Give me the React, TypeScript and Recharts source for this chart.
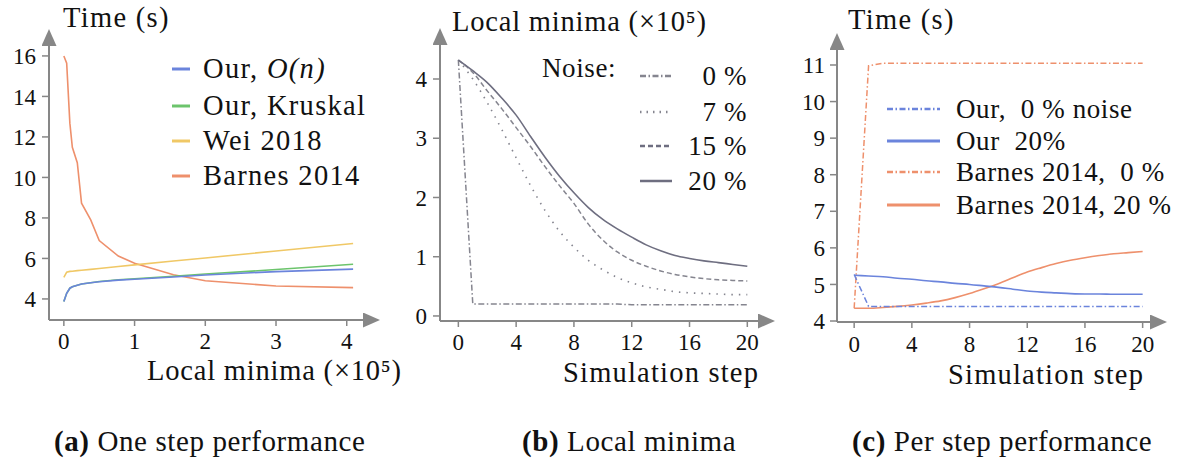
import React from 'react';
import { LineChart, Line, XAxis, YAxis } from 'recharts';

// (a) one step performance
const minimaA = [0, 0.04, 0.085, 0.12, 0.19, 0.25, 0.38, 0.5, 0.77, 1.0, 1.55, 2.0, 3.0, 4.09];
const ourOn = [3.87, 4.28, 4.53, 4.6, 4.68, 4.74, 4.8, 4.85, 4.93, 4.97, 5.08, 5.18, 5.35, 5.47];
const ourKruskal = [3.87, 4.28, 4.53, 4.6, 4.68, 4.74, 4.8, 4.86, 4.95, 5.0, 5.12, 5.23, 5.45, 5.71];
const wei2018 = [5.07, 5.32, 5.36, 5.37, 5.4, 5.42, 5.46, 5.5, 5.6, 5.68, 5.87, 6.02, 6.37, 6.74];
const barnesA = [16, 15.64, 12.68, 11.49, 10.73, 8.73, 7.9, 6.88, 6.12, 5.76, 5.19, 4.9, 4.64, 4.56];
const ticksAx = [0, 1, 2, 3, 4];
const ticksAy = [4, 6, 8, 10, 12, 14, 16];

// (b) local minima per step
const steps = [0, 1, 2, 3, 4, 5, 6, 7, 8, 9, 10, 11, 12, 13, 14, 15, 16, 17, 18, 19, 20];
const noise0 = [4.32, 0.2, 0.2, 0.2, 0.2, 0.2, 0.2, 0.2, 0.2, 0.2, 0.2, 0.2, 0.19, 0.19, 0.19, 0.19, 0.19, 0.19, 0.19, 0.19, 0.19];
const noise7 = [4.32, 4.0, 3.6, 3.15, 2.67, 2.2, 1.78, 1.43, 1.16, 0.94, 0.78, 0.65, 0.56, 0.49, 0.45, 0.41, 0.39, 0.38, 0.37, 0.36, 0.36];
const noise15 = [4.32, 4.11, 3.8, 3.5, 3.18, 2.86, 2.52, 2.2, 1.9, 1.55, 1.28, 1.08, 0.94, 0.84, 0.76, 0.7, 0.66, 0.63, 0.61, 0.6, 0.59];
const noise20 = [4.32, 4.14, 3.94, 3.68, 3.39, 3.03, 2.68, 2.36, 2.08, 1.83, 1.63, 1.47, 1.33, 1.2, 1.1, 1.02, 0.97, 0.93, 0.9, 0.87, 0.84];
const ticksStep = [0, 4, 8, 12, 16, 20];
const ticksBy = [0, 1, 2, 3, 4];

// (c) per step performance
const our0 = [5.27, 4.4, 4.4, 4.4, 4.4, 4.4, 4.4, 4.4, 4.4, 4.4, 4.4, 4.4, 4.4, 4.4, 4.4, 4.4, 4.4, 4.4, 4.4, 4.4, 4.4];
const our20 = [5.25, 5.23, 5.21, 5.17, 5.14, 5.1, 5.07, 5.03, 5.0, 4.96, 4.92, 4.87, 4.82, 4.79, 4.77, 4.75, 4.74, 4.74, 4.73, 4.73, 4.73];
const barnes0 = [4.35, 10.98, 11.05, 11.05, 11.05, 11.05, 11.05, 11.05, 11.05, 11.05, 11.05, 11.05, 11.05, 11.05, 11.05, 11.05, 11.05, 11.05, 11.05, 11.05, 11.05];
const barnes20 = [4.35, 4.35, 4.37, 4.4, 4.44, 4.49, 4.55, 4.64, 4.75, 4.88, 5.02, 5.18, 5.34, 5.46, 5.57, 5.66, 5.73, 5.79, 5.84, 5.87, 5.9];
const ticksCy = [4, 5, 6, 7, 8, 9, 10, 11];

const dataA = minimaA.map((x, i) => ({ x, ourOn: ourOn[i], ourKruskal: ourKruskal[i], wei: wei2018[i], barnes: barnesA[i] }));
const dataB = steps.map((x, i) => ({ x, n0: noise0[i], n7: noise7[i], n15: noise15[i], n20: noise20[i] }));
const dataC = steps.map((x, i) => ({ x, our0: our0[i], our20: our20[i], b0: barnes0[i], b20: barnes20[i] }));

const FONT = "'Liberation Serif', 'Times New Roman', serif";
const AXIS = '#878787';
const BLUE = '#6b84dc';
const GREEN = '#6cc46c';
const YELLOW = '#f0c866';
const ORANGE = '#ee906c';
const GRAY = '#6e6e80';
const GRAY_L = '#85858f';
const DASHDOT = '6 2.5 1.5 2.5';

const tickStyle = { fontFamily: FONT, fontSize: 23, fill: '#111' };

const Arrow = ({ id }: { id: string }) => (
  <defs>
    <marker id={id} viewBox="0 0 17 15" refX="0" refY="7.5" markerWidth="17" markerHeight="15"
      markerUnits="userSpaceOnUse" orient="auto-start-reverse">
      <path d="M0,0 L17,7.5 L0,15 Z" fill={AXIS} />
    </marker>
  </defs>
);

const axisX = (id: string) => ({ stroke: AXIS, strokeWidth: 2, markerEnd: `url(#${id})` });
const axisY = (id: string) => ({ stroke: AXIS, strokeWidth: 2, markerStart: `url(#${id})` });
const tickLine = { stroke: AXIS, strokeWidth: 1.5 };

// text placed by its baseline (line-height 0.7 keeps the box tight)
const text = (left: number, baseline: number, size: number, content: React.ReactNode, spacing = 0.6) => (
  <div style={{ position: 'absolute', left, top: baseline - 0.6875 * size, fontFamily: FONT, fontSize: size, lineHeight: 0.7, whiteSpace: 'pre', color: '#111', letterSpacing: spacing }}>
    {content}
  </div>
);

const Swatch = ({ color, dash, w, h }: { color: string; dash?: string; w: number; h: number }) => (
  <svg width={w} height={8} style={{ display: 'block' }}>
    <line x1={0} y1={4} x2={w} y2={4} stroke={color} strokeWidth={h} strokeDasharray={dash} />
  </svg>
);

const legendRow = (left: number, y: number, sw: React.ReactNode, label: React.ReactNode, gap: number, size = 27, spacing = 0.6) => (
  <div style={{ position: 'absolute', left, top: y - 14, height: 28, display: 'flex', alignItems: 'center', fontFamily: FONT, fontSize: size, letterSpacing: spacing, whiteSpace: 'pre', color: '#111' }}>
    {sw}
    <span style={{ marginLeft: gap }}>{label}</span>
  </div>
);

export default function App() {
  return (
    <div style={{ position: 'absolute', left: 0, top: 0, width: 1182, height: 458, background: '#fff', overflow: 'hidden' }}>
      {/* (a) */}
      <div style={{ position: 'absolute', left: 0, top: 0 }}>
        <LineChart width={390} height={400} data={dataA} margin={{ top: 46, right: 27, bottom: 50, left: 0 }}>
          <Arrow id="arrA" />
          <XAxis dataKey="x" type="number" domain={[-0.21, 4.23]} allowDataOverflow ticks={ticksAx} height={30}
            axisLine={axisX('arrA')} tickLine={tickLine} tickSize={6} tickMargin={7} tick={tickStyle} />
          <YAxis type="number" domain={[2.96, 16.49]} allowDataOverflow ticks={ticksAy} width={49}
            axisLine={axisY('arrA')} tickLine={tickLine} tickSize={7} tickMargin={6} tick={tickStyle} />
          <Line type="linear" dataKey="barnes" stroke={ORANGE} strokeWidth={1.6} dot={false} activeDot={false} isAnimationActive={false} />
          <Line type="linear" dataKey="wei" stroke={YELLOW} strokeWidth={1.6} dot={false} activeDot={false} isAnimationActive={false} />
          <Line type="linear" dataKey="ourKruskal" stroke={GREEN} strokeWidth={1.6} dot={false} activeDot={false} isAnimationActive={false} />
          <Line type="linear" dataKey="ourOn" stroke={BLUE} strokeWidth={1.6} dot={false} activeDot={false} isAnimationActive={false} />
        </LineChart>
      </div>
      {text(63, 28, 28.5, 'Time (s)', 1.3)}
      {text(147, 381, 28.5, 'Local minima (×10⁵)', 0.8)}
      {legendRow(172, 69, <Swatch color={BLUE} w={18} h={3} />, <>Our, <i>O(n)</i></>, 13, 28.5, 1.3)}
      {legendRow(172, 106, <Swatch color={GREEN} w={18} h={3} />, 'Our, Kruskal', 13, 28.5, 1.3)}
      {legendRow(172, 141, <Swatch color={YELLOW} w={18} h={3} />, 'Wei 2018', 13, 28.5, 1.3)}
      {legendRow(172, 176, <Swatch color={ORANGE} w={18} h={3} />, 'Barnes 2014', 13, 28.5, 1.3)}

      {/* (b) */}
      <div style={{ position: 'absolute', left: 390, top: 0 }}>
        <LineChart width={390} height={400} data={dataB} margin={{ top: 45, right: 22, bottom: 49, left: 0 }}>
          <Arrow id="arrB" />
          <XAxis dataKey="x" type="number" domain={[-1.27, 20.74]} allowDataOverflow ticks={ticksStep} height={30}
            axisLine={axisX('arrB')} tickLine={tickLine} tickSize={6} tickMargin={7} tick={tickStyle} />
          <YAxis type="number" domain={[-0.085, 4.574]} allowDataOverflow ticks={ticksBy} width={50}
            axisLine={axisY('arrB')} tickLine={tickLine} tickSize={7} tickMargin={6} tick={tickStyle} />
          <Line type="linear" dataKey="n0" stroke={GRAY_L} strokeWidth={1.5} strokeDasharray={DASHDOT} dot={false} activeDot={false} isAnimationActive={false} />
          <Line type="monotone" dataKey="n7" stroke={GRAY_L} strokeWidth={1.6} strokeDasharray="1.5 6" dot={false} activeDot={false} isAnimationActive={false} />
          <Line type="monotone" dataKey="n15" stroke={GRAY_L} strokeWidth={1.5} strokeDasharray="5 3" dot={false} activeDot={false} isAnimationActive={false} />
          <Line type="monotone" dataKey="n20" stroke={GRAY} strokeWidth={1.6} dot={false} activeDot={false} isAnimationActive={false} />
        </LineChart>
      </div>
      {text(452, 32, 28.5, 'Local minima (×10⁵)', 0.8)}
      {text(563, 383, 28.5, 'Simulation step', 1.2)}
      {text(542, 78, 27, 'Noise:')}
      {[
        { y: 76, dash: DASHDOT, label: '0 %', c: GRAY_L },
        { y: 112, dash: '1.5 5', label: '7 %', c: GRAY_L },
        { y: 146, dash: '5 3', label: '15 %', c: GRAY },
        { y: 181, dash: undefined, label: '20 %', c: GRAY },
      ].map((r) => (
        <div key={r.label} style={{ position: 'absolute', left: 640, top: r.y - 14, width: 107, height: 28, display: 'flex', alignItems: 'center', justifyContent: 'space-between', fontFamily: FONT, fontSize: 27, letterSpacing: 0.6, color: '#111' }}>
          <Swatch color={r.c} dash={r.dash} w={32} h={2.5} />
          <span>{r.label}</span>
        </div>
      ))}

      {/* (c) */}
      <div style={{ position: 'absolute', left: 780, top: 0 }}>
        <LineChart width={402} height={400} data={dataC} margin={{ top: 50, right: 32, bottom: 48, left: 0 }}>
          <Arrow id="arrC" />
          <XAxis dataKey="x" type="number" domain={[-1.19, 20.51]} allowDataOverflow ticks={ticksStep} height={30}
            axisLine={axisX('arrC')} tickLine={tickLine} tickSize={6} tickMargin={8} tick={tickStyle} />
          <YAxis type="number" domain={[3.973, 11.41]} allowDataOverflow ticks={ticksCy} width={57}
            axisLine={axisY('arrC')} tickLine={tickLine} tickSize={7} tickMargin={5} tick={tickStyle} />
          <Line type="linear" dataKey="b0" stroke={ORANGE} strokeWidth={1.5} strokeDasharray={DASHDOT} dot={false} activeDot={false} isAnimationActive={false} />
          <Line type="monotone" dataKey="b20" stroke={ORANGE} strokeWidth={1.6} dot={false} activeDot={false} isAnimationActive={false} />
          <Line type="linear" dataKey="our0" stroke={BLUE} strokeWidth={1.5} strokeDasharray={DASHDOT} dot={false} activeDot={false} isAnimationActive={false} />
          <Line type="monotone" dataKey="our20" stroke={BLUE} strokeWidth={1.6} dot={false} activeDot={false} isAnimationActive={false} />
        </LineChart>
      </div>
      {text(848, 30, 28.5, 'Time (s)', 1.3)}
      {text(948, 385, 28.5, 'Simulation step', 1.2)}
      {legendRow(887, 109, <Swatch color={BLUE} dash={DASHDOT} w={53} h={2.5} />, 'Our,  0 % noise', 16)}
      {legendRow(887, 141, <Swatch color={BLUE} w={53} h={3} />, 'Our  20%', 16)}
      {legendRow(887, 172, <Swatch color={ORANGE} dash={DASHDOT} w={53} h={2.5} />, 'Barnes 2014,  0 %', 16)}
      {legendRow(887, 205, <Swatch color={ORANGE} w={53} h={3} />, 'Barnes 2014, 20 %', 16)}

      {/* captions */}
      {text(54, 451, 29, <><b>(a)</b> One step performance</>)}
      {text(522, 451, 29, <><b>(b)</b> Local minima</>)}
      {text(852, 451, 29, <><b>(c)</b> Per step performance</>)}
    </div>
  );
}
